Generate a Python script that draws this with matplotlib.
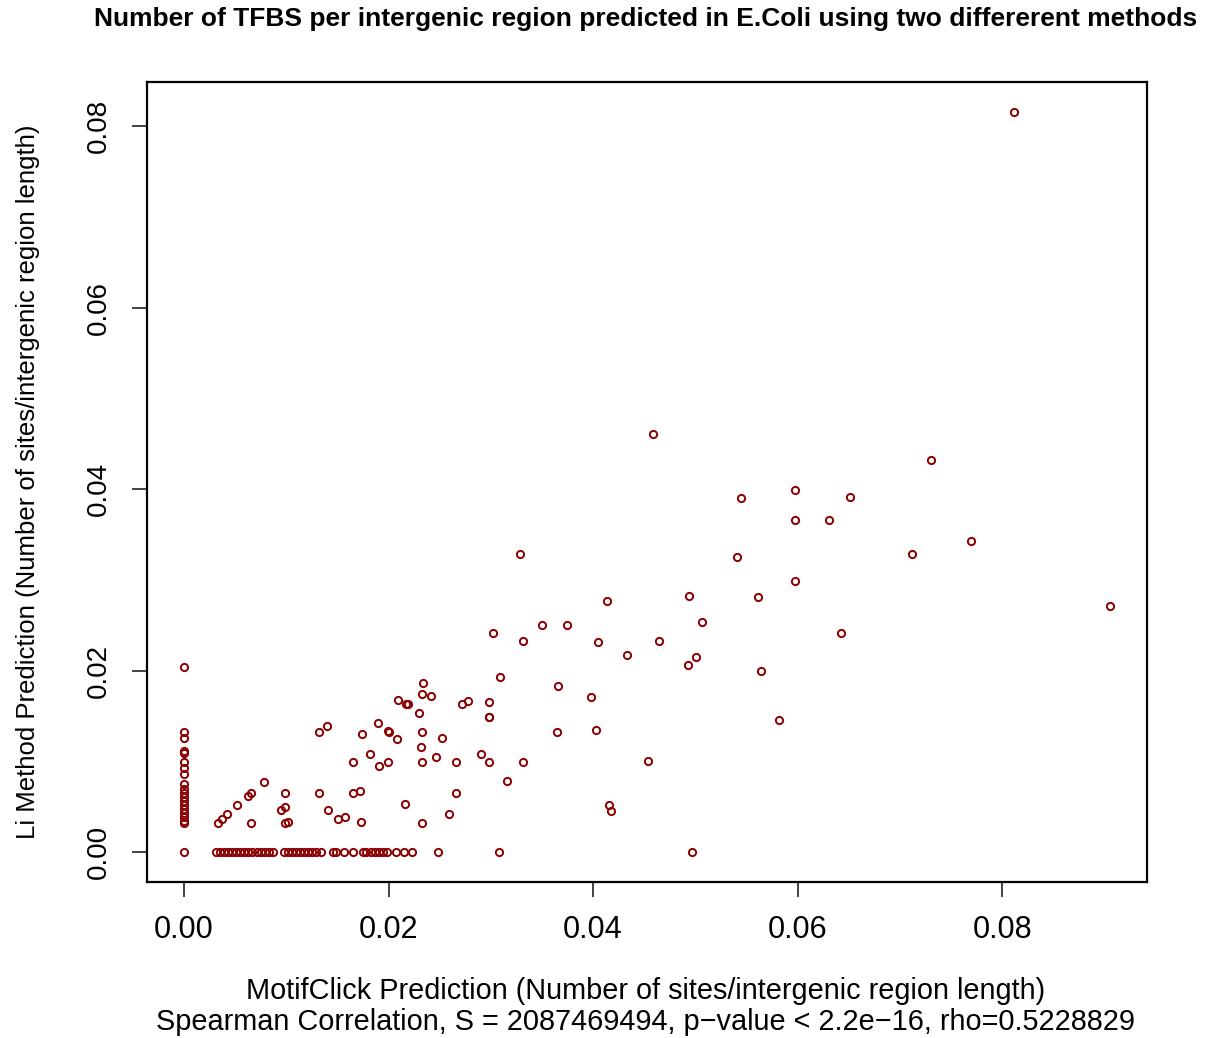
import numpy as np
import matplotlib
matplotlib.use("Agg")
import matplotlib.pyplot as plt

plt.rcParams["font.family"] = ["Liberation Sans", "DejaVu Sans"]

# points with MotifClick = 0 (Li method > 0 or 0)
zero_x_li = [0.02042, 0.01325, 0.01258, 0.01115, 0.01093, 0.00993, 0.00927, 0.00861,
             0.00751, 0.00695, 0.00651, 0.00607, 0.00563, 0.00519, 0.00475, 0.00430,
             0.00386, 0.00342, 0.00320, 0.0]

# points with Li method = 0
zero_y_motif = [0.00316, 0.00355, 0.00394, 0.00433, 0.00472, 0.00511, 0.00550, 0.00589,
                0.00628, 0.00667, 0.00716, 0.00755, 0.00794, 0.00833, 0.00872, 0.00979,
                0.01019, 0.01058, 0.01097, 0.01136, 0.01175, 0.01214, 0.01253, 0.01292,
                0.01340, 0.01458, 0.01487, 0.01565, 0.01653, 0.01750, 0.01780, 0.01828,
                0.01867, 0.01906, 0.01945, 0.01984, 0.02072, 0.02150, 0.02228, 0.02482,
                0.03077, 0.04970]

# remaining points (MotifClick, Li)
motif = [0.00333, 0.00375, 0.00423, 0.00518, 0.00625, 0.00658, 0.00778, 0.00658,
         0.00950, 0.00989, 0.00989, 0.00989, 0.01016, 0.01324, 0.01396, 0.01324,
         0.01406, 0.01503, 0.01578, 0.01656, 0.01656, 0.01718, 0.01731, 0.01738,
         0.01816, 0.01894, 0.01909, 0.01991, 0.01991, 0.02001, 0.02082, 0.02089,
         0.02173, 0.02186, 0.02163, 0.02297, 0.02323, 0.02316, 0.02323, 0.02326,
         0.02339, 0.02329, 0.02414, 0.02462, 0.02521, 0.02592, 0.03282, 0.05406,
         0.04140, 0.04938, 0.05067, 0.03019, 0.03503, 0.03750, 0.03318, 0.04046,
         0.04641, 0.04336, 0.05009, 0.04931, 0.03087, 0.03659, 0.03975, 0.02716,
         0.02781, 0.02986, 0.02986, 0.02986, 0.03646, 0.04030, 0.02904, 0.02655,
         0.02986, 0.03318, 0.04541, 0.03162, 0.02655, 0.04160, 0.04180, 0.04590,
         0.07308, 0.05445, 0.05977, 0.06508, 0.05977, 0.06306, 0.07692, 0.07119,
         0.05977, 0.05610, 0.09055, 0.06426, 0.05640, 0.05819, 0.08121]
li = [0.00323, 0.00372, 0.00423, 0.00519, 0.00621, 0.00655, 0.00773, 0.00323,
      0.00471, 0.00497, 0.00659, 0.00323, 0.00331, 0.01328, 0.01394, 0.00659,
      0.00464, 0.00372, 0.00390, 0.00993, 0.00659, 0.00681, 0.00339, 0.01302,
      0.01089, 0.01424, 0.00953, 0.00993, 0.01336, 0.01328, 0.01247, 0.01674,
      0.01637, 0.01637, 0.00538, 0.01531, 0.01325, 0.01156, 0.00993, 0.00323,
      0.01869, 0.01747, 0.01725, 0.01052, 0.01258, 0.00427, 0.03289, 0.03256,
      0.02771, 0.02829, 0.02542, 0.02417, 0.02506, 0.02506, 0.02329, 0.02321,
      0.02329, 0.02174, 0.02152, 0.02061, 0.01932, 0.01832, 0.01708, 0.01634,
      0.01667, 0.01656, 0.01493, 0.01493, 0.01325, 0.01343, 0.01089, 0.00993,
      0.00993, 0.00993, 0.01008, 0.00787, 0.00659, 0.00519, 0.00460, 0.04611,
      0.04327, 0.03900, 0.03996, 0.03915, 0.03661, 0.03661, 0.03425, 0.03289,
      0.02991, 0.02811, 0.02719, 0.02414, 0.01995, 0.01457, 0.08160]

xs = np.array([0.0] * len(zero_x_li) + zero_y_motif + motif)
ys = np.array(zero_x_li + [0.0] * len(zero_y_motif) + li)

fig = plt.figure(figsize=(12.12, 10.38), dpi=100)
ax = fig.add_axes([147 / 1212, 1 - 882 / 1038, 1000 / 1212, 800 / 1038])

ax.plot(xs, ys, linestyle="none", marker="o", markersize=5.2,
        markerfacecolor="none", markeredgecolor="#8B0000", markeredgewidth=1.4)

# R style 4% padding
xr = xs.max() - xs.min()
yr = ys.max() - ys.min()
ax.set_xlim(xs.min() - 0.04 * xr, xs.max() + 0.04 * xr)
ax.set_ylim(ys.min() - 0.04 * yr, ys.max() + 0.04 * yr)

ticks = [0.00, 0.02, 0.04, 0.06, 0.08]
ax.set_xticks(ticks)
ax.set_xticklabels([f"{t:.2f}" for t in ticks])
ax.set_yticks(ticks)
ax.set_yticklabels([f"{t:.2f}" for t in ticks], rotation=90, va="center")
ax.tick_params(length=11, width=1.2, pad=14, color="#222222")
ax.tick_params(axis="x", labelsize=22, pad=13)
ax.tick_params(axis="y", labelsize=20)
for s in ax.spines.values():
    s.set_linewidth(1.6)

fig.text(646 / 1212, 1 - 19 / 1038, "Number of TFBS per intergenic region predicted in E.Coli using two differerent methods",
         ha="center", va="center", fontsize=19, fontweight="bold")
fig.text(646 / 1212, 1 - 991 / 1038, "MotifClick Prediction (Number of sites/intergenic region length)",
         ha="center", va="center", fontsize=20.8)
fig.text(646 / 1212, 1 - 1022 / 1038, "Spearman Correlation, S = 2087469494, p\u2212value < 2.2e\u221216, rho=0.5228829",
         ha="center", va="center", fontsize=20.8)
fig.text(28 / 1212, 1 - 482 / 1038, "Li Method Prediction (Number of sites/intergenic region length)",
         ha="center", va="center", fontsize=18.5, rotation=90)

fig.savefig("out.png", dpi=100, facecolor="white")
